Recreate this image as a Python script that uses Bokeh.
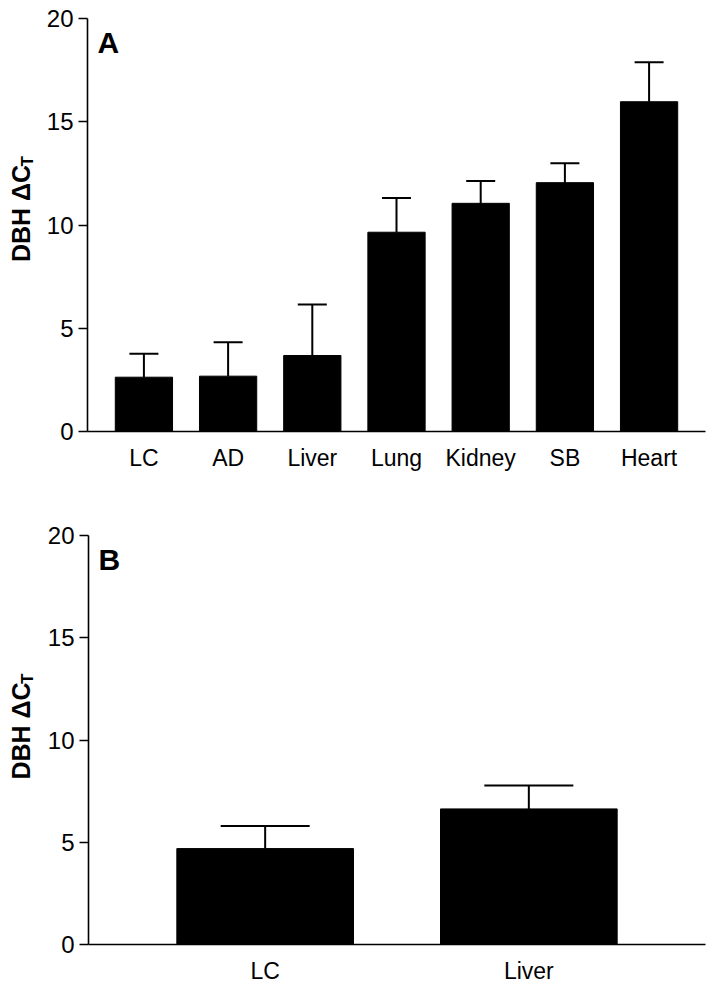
import math
from bokeh.plotting import figure
from bokeh.models import (ColumnDataSource, FactorRange, Range1d, Whisker, TeeHead,
                          Label, FixedTicker)
from bokeh.layouts import column, row
from bokeh.embed import file_html
from bokeh.resources import INLINE

# ---- data ----
tissues_a = ["LC", "AD", "Liver", "Lung", "Kidney", "SB", "Heart"]
mean_a = [2.63, 2.68, 3.68, 9.65, 11.05, 12.05, 15.97]
upper_a = [3.76, 4.32, 6.15, 11.31, 12.13, 12.99, 17.88]

tissues_b = ["LC", "Liver"]
mean_b = [4.69, 6.63]
upper_b = [5.80, 7.78]

y_ticks = [0, 5, 10, 15, 20]

FONT = "Liberation Sans"
LAB_W = 40  # width of the strip holding the rotated y-axis title


def title_strip(height, y_range, main_c, sub_c):
    """Narrow figure holding the rotated y-axis title 'DBH ΔC' with subscript T."""
    s = figure(width=LAB_W, height=height, x_range=Range1d(0, LAB_W),
               y_range=y_range, x_axis_type=None, y_axis_type=None,
               output_backend="svg", toolbar_location=None,
               min_border=0, min_border_left=0, min_border_right=0,
               min_border_top=0, min_border_bottom=0)
    s.outline_line_color = None
    s.add_layout(Label(x=20, y=main_c, x_units="screen", y_units="data",
                       text="DBH \u0394C", angle=math.pi / 2, text_font=FONT,
                       text_font_style="bold", text_font_size="25px",
                       text_align="center", text_baseline="middle",
                       text_color="black"))
    s.add_layout(Label(x=27, y=sub_c, x_units="screen", y_units="data",
                       text="T", angle=math.pi / 2, text_font=FONT,
                       text_font_style="bold", text_font_size="17px",
                       text_align="center", text_baseline="middle",
                       text_color="black"))
    return s


def make_panel(cats, means, uppers, letter, height, border_top, border_bottom,
               border_left, cap_px, bar_w):
    src = ColumnDataSource(dict(cat=cats, top=means, upper=uppers))
    p = figure(x_range=FactorRange(factors=cats, range_padding=0.17,
                                   range_padding_units="absolute"),
               y_range=Range1d(0, 20), width=708 - LAB_W, height=height,
               output_backend="svg", toolbar_location=None,
               min_border_top=border_top, min_border_bottom=border_bottom,
               min_border_left=border_left, min_border_right=3)
    p.outline_line_color = None
    p.xgrid.grid_line_color = None
    p.ygrid.grid_line_color = None
    p.background_fill_color = "white"

    p.vbar(x="cat", top="top", width=bar_w, source=src, fill_color="black",
           line_color="black")
    w = Whisker(base="cat", upper="upper", lower="top", source=src,
                upper_head=TeeHead(size=cap_px, line_width=2, line_color="black"),
                lower_head=None, line_width=2, line_color="black")
    p.add_layout(w)

    for ax in (p.xaxis[0], p.yaxis[0]):
        ax.axis_line_width = 1.6
        ax.axis_line_color = "black"
        ax.major_label_text_font = FONT
        ax.major_label_text_color = "black"
        ax.minor_tick_line_color = None

    p.xaxis.major_label_text_font_size = "23px"
    p.yaxis.major_label_text_font_size = "24px"
    p.xaxis.major_tick_line_color = None
    p.xaxis.major_label_standoff = 7
    p.yaxis.ticker = FixedTicker(ticks=y_ticks)
    p.yaxis.major_tick_out = 9
    p.yaxis.major_tick_in = 0
    p.yaxis.major_tick_line_width = 1.6
    p.yaxis.major_label_standoff = 5

    # panel letter
    p.add_layout(Label(x=10, y=19.62, x_units="screen", y_units="data", text=letter,
                       text_font=FONT, text_font_style="bold", text_font_size="30px",
                       text_baseline="top", text_align="left", text_color="black"))
    return p


H_A, H_B = 482, 506
pa = make_panel(tissues_a, mean_a, upper_a, "A", H_A, 18, 51, 87 - LAB_W, 29, 0.68)
pb = make_panel(tissues_b, mean_b, upper_b, "B", H_B, 53, 44, 88 - LAB_W, 89, 0.67)

# title strips share the panels' y ranges (frames are aligned in a row)
sa = title_strip(H_A, pa.y_range, 10.56, 13.08)
sb = title_strip(H_B, pb.y_range, 10.44, 12.99)

layout = column(row(sa, pa, spacing=0), row(sb, pb, spacing=0), spacing=0)
open("out.html", "w").write(file_html(layout, INLINE))
